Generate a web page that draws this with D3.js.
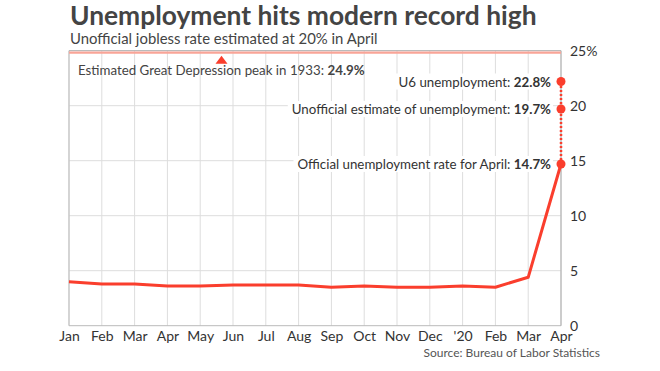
<!DOCTYPE html>
<html lang="en">
<head>
<meta charset="utf-8">
<title>Unemployment hits modern record high</title>
<script src="https://cdn.jsdelivr.net/npm/d3@7"></script>
<style>
  body { margin: 0; background: #fff; }
  text { font-family: Lato, "Open Sans", sans-serif; }
</style>
</head>
<body>
<script>
// data
var months = ["Jan", "Feb", "Mar", "Apr", "May", "Jun", "Jul", "Aug", "Sep", "Oct", "Nov", "Dec", "'20", "Feb", "Mar", "Apr"];
var rate = [4.0, 3.8, 3.8, 3.6, 3.6, 3.7, 3.7, 3.7, 3.5, 3.6, 3.5, 3.5, 3.6, 3.5, 4.4, 14.7];
var yTicks = [0, 5, 10, 15, 20, 25];
var aprilLabels = ["Official unemployment rate for April: ", "Unofficial estimate of unemployment: ", "U6 unemployment: "];
var aprilValues = [14.7, 19.7, 22.2];          // where the dots sit in the picture
var aprilText = ["14.7%", "19.7%", "22.8%"];
var depressionPeak = 24.9;
var peakMarkAt = 4.65;                         // month index of the triangle

var w = 660, h = 371;
var plotL = 69, plotR = 561, plotT = 50.7, plotB = 325.7;
var red = "#fa3e2d";

var svg = d3.select("body").append("svg").attr("width", w).attr("height", h);

var x = d3.scaleLinear().domain([0, months.length - 1]).range([plotL, plotR]);
var y = d3.scaleLinear().domain([0, 25]).range([plotB, plotT]);

// title + subtitle
var title = svg.append("text").attr("x", 70).attr("y", 25)
  .attr("font-weight", 700).attr("font-size", 26).attr("fill", "#444")
  .text("Unemployment hits modern record high");
var tw = title.node().getComputedTextLength();
title.attr("font-size", 26 * 467 / tw);

var sub = svg.append("text").attr("x", 70).attr("y", 44)
  .attr("font-size", 16).attr("fill", "#444")
  .text("Unofficial jobless rate estimated at 20% in April");
var sw = sub.node().getComputedTextLength();
sub.attr("font-size", 16 * 308 / sw);

// grid
svg.append("g").selectAll("line").data(months.map((d, i) => i)).join("line")
  .attr("x1", d => x(d)).attr("x2", d => x(d))
  .attr("y1", plotT).attr("y2", plotB)
  .attr("stroke", "#ddd").attr("stroke-width", 1);

svg.append("g").selectAll("line").data([5, 10, 15, 20]).join("line")
  .attr("x1", plotL).attr("x2", plotR)
  .attr("y1", d => y(d)).attr("y2", d => y(d))
  .attr("stroke", "#ddd").attr("stroke-width", 1);

// frame
svg.append("line").attr("x1", plotL).attr("x2", plotR).attr("y1", y(25)).attr("y2", y(25))
  .attr("stroke", "#aaa");
svg.append("line").attr("x1", plotL).attr("x2", plotR).attr("y1", plotB).attr("y2", plotB)
  .attr("stroke", "#bbb");
svg.append("line").attr("x1", plotL).attr("x2", plotL).attr("y1", plotT).attr("y2", plotB)
  .attr("stroke", "#bbb");
svg.append("line").attr("x1", plotR).attr("x2", plotR).attr("y1", plotT).attr("y2", plotB)
  .attr("stroke", "#aaa");

// depression peak band + marker
svg.append("line").attr("x1", plotL).attr("x2", plotR)
  .attr("y1", y(depressionPeak) + 0.8).attr("y2", y(depressionPeak) + 0.8)
  .attr("stroke", "#f9a497").attr("stroke-width", 2.2);
var tx = x(peakMarkAt), ty = y(depressionPeak);
svg.append("path")
  .attr("d", `M${tx - 6},${ty + 12}L${tx + 6},${ty + 12}L${tx},${ty + 4}Z`)
  .attr("fill", red);

var pk = svg.append("text").attr("x", 78).attr("y", 75).attr("font-size", 13.3).attr("fill", "#444");
pk.append("tspan").text("Estimated Great Depression peak in 1933: ");
pk.append("tspan").attr("font-weight", 700).text(depressionPeak + "%");

// y axis labels
var yAxis = d3.axisRight(y).tickValues(yTicks).tickSize(0).tickPadding(9)
  .tickFormat(d => d === 25 ? "25%" : d);
svg.append("g").attr("transform", `translate(${plotR},0)`).call(yAxis)
  .call(g => g.select(".domain").remove())
  .call(g => g.selectAll("text").attr("font-size", 14).attr("fill", "#333")
    .attr("font-family", "Lato, sans-serif"));

// x axis labels
var xAxis = d3.axisBottom(x).tickValues(months.map((d, i) => i)).tickSize(0).tickPadding(5)
  .tickFormat(i => months[i]);
svg.append("g").attr("transform", `translate(0,${plotB})`).call(xAxis)
  .call(g => g.select(".domain").remove())
  .call(g => g.selectAll("text").attr("font-size", 14).attr("fill", "#333")
    .attr("font-family", "Lato, sans-serif"));

// line
var line = d3.line().x((d, i) => x(i)).y(d => y(d));
svg.append("path").datum(rate).attr("d", line)
  .attr("fill", "none").attr("stroke", red).attr("stroke-width", 3)
  .attr("stroke-linejoin", "round");

// april dotted connector + dots
var ax = x(months.length - 1);
svg.append("line").attr("x1", ax).attr("x2", ax)
  .attr("y1", y(d3.min(aprilValues))).attr("y2", y(d3.max(aprilValues)))
  .attr("stroke", red).attr("stroke-width", 2.5).attr("stroke-dasharray", "2,2");
svg.append("g").selectAll("circle").data(aprilValues).join("circle")
  .attr("cx", ax).attr("cy", d => y(d)).attr("r", 4.5).attr("fill", red);

// april labels with white backing
var lab = svg.append("g").selectAll("g").data(aprilValues).join("g");
lab.each(function (d, i) {
  var g = d3.select(this);
  var bg = g.append("rect").attr("fill", "#fff");
  var t = g.append("text").attr("x", ax - 10).attr("y", y(d) + 5)
    .attr("text-anchor", "end").attr("font-size", 13.3).attr("fill", "#333");
  t.append("tspan").text(aprilLabels[i]);
  t.append("tspan").attr("font-weight", 700).text(aprilText[i]);
  var b = t.node().getBBox();
  bg.attr("x", b.x - 4).attr("y", b.y).attr("width", b.width + 6).attr("height", b.height);
});

// source
svg.append("text").attr("x", 600).attr("y", 357).attr("text-anchor", "end")
  .attr("font-size", 12).attr("fill", "#555")
  .text("Source: Bureau of Labor Statistics");
</script>
</body>
</html>
